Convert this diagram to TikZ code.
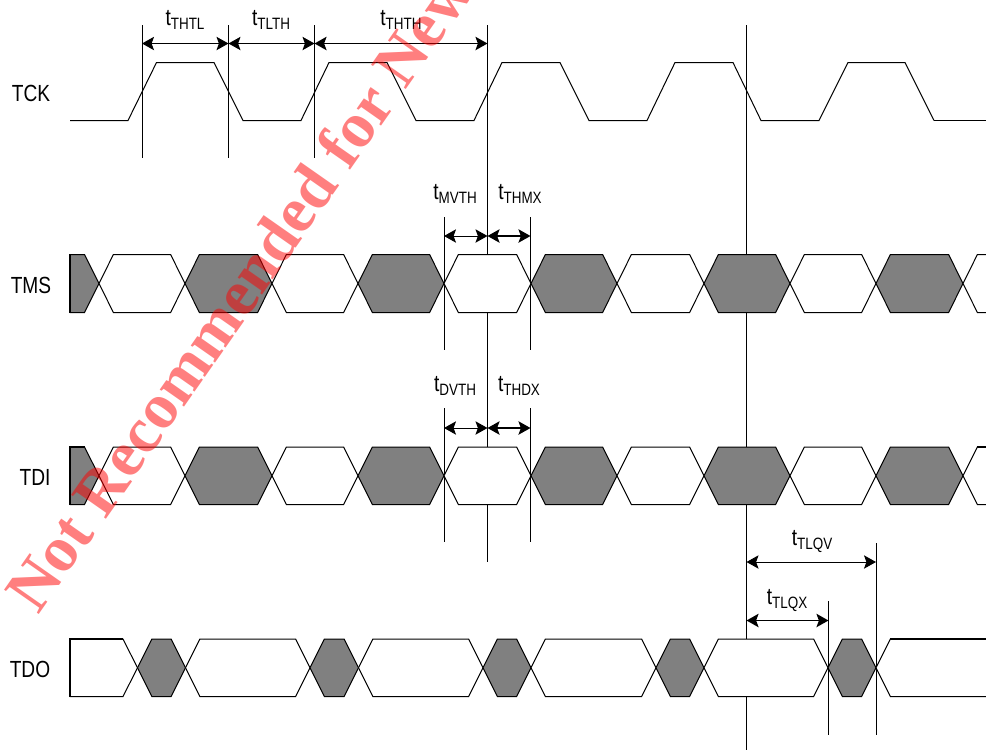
\documentclass[tikz,border=0pt]{standalone}
\usepackage{fontspec}
\setmainfont{Liberation Sans}[FakeStretch=0.82]
\newfontfamily\wmfont{Liberation Serif}
\usetikzlibrary{arrows.meta}
\newcommand{\tsub}[1]{\fontsize{17.5pt}{18pt}\selectfont t\raisebox{-3.2pt}{\fontsize{12.3pt}{13pt}\selectfont #1}}
\definecolor{gray50}{RGB}{128,128,128}
\definecolor{wmred}{RGB}{255,0,0}
\tikzset{
  wire/.style={draw=black,line width=0.75pt,line join=miter},
  heavy/.style={draw=black,line width=1.3pt},
  tline/.style={draw=black,line width=0.75pt},
  dim/.style={draw=black,line width=0.75pt,{Stealth[length=9pt,width=10pt,inset=1.8pt]}-{Stealth[length=9pt,width=10pt,inset=1.8pt]}},
  dimbold/.style={dim,line width=1.4pt},
  lab/.style={font=\fontsize{17.5pt}{18pt}\selectfont,inner sep=0pt,anchor=base},
  tlab/.style={inner sep=0pt,anchor=base},
  dark/.style={wire,fill=gray50},
  pale/.style={wire,fill=white},
}
\newcommand{\hexa}[5]{% style, x1, x2, top, bottom
  \path[#1] (#2,{(#4+#5)/2}) -- (#2+14.4,#4) -- (#3-14.4,#4) -- (#3,{(#4+#5)/2}) -- (#3-14.4,#5) -- (#2+14.4,#5) -- cycle;}
\newcommand{\datarow}[2]{% top, bottom
  \path[dark] (70,#1) -- (84.5,#1) -- (99,{(#1+#2)/2}) -- (84.5,#2) -- (70,#2);
  \draw[heavy] (70,#2+0.5) -- (70,#1) -- (84.5,#1);
  \hexa{pale}{99}{185}{#1}{#2}
  \hexa{dark}{185}{272}{#1}{#2}
  \hexa{pale}{272}{358}{#1}{#2}
  \hexa{dark}{358}{444}{#1}{#2}
  \hexa{pale}{444}{531}{#1}{#2}
  \hexa{dark}{531}{617}{#1}{#2}
  \hexa{pale}{617}{704}{#1}{#2}
  \hexa{dark}{704}{790}{#1}{#2}
  \hexa{pale}{790}{876}{#1}{#2}
  \hexa{dark}{876}{963}{#1}{#2}
  \path[pale] (987,#1) -- (977.4,#1) -- (963,{(#1+#2)/2}) -- (977.4,#2) -- (987,#2);
  \draw[heavy] (977.4,#1) -- (987,#1);
}
\begin{document}
\begin{tikzpicture}[x=0.75pt,y=-0.75pt]
\useasboundingbox (0,0) rectangle (986,751);
\clip (0,0) rectangle (986,751);
% named ends of the timing lines
\coordinate (a1) at (142,25);  \coordinate (a2) at (142,158);
\coordinate (b1) at (228.5,25);  \coordinate (b2) at (228.5,158);
\coordinate (c1) at (314.5,25);  \coordinate (c2) at (314.5,158);
\coordinate (d1) at (487.5,25);\coordinate (d2) at (487.5,562);
\coordinate (e1) at (746.5,25);  \coordinate (e2) at (746.5,750);
\coordinate (f1) at (444,217); \coordinate (f2) at (444,350);
\coordinate (g1) at (530.5,217); \coordinate (g2) at (530.5,350);
\coordinate (h1) at (444,408); \coordinate (h2) at (444,542);
\coordinate (i1) at (530.5,408); \coordinate (i2) at (530.5,542);
\coordinate (j1) at (828.5,601); \coordinate (j2) at (828.5,735);
\coordinate (k1) at (876,543); \coordinate (k2) at (876,735);
\foreach \p/\q in {a1/a2,b1/b2,c1/c2,d1/d2,e1/e2,f1/f2,g1/g2,h1/h2,i1/i2,j1/j2,k1/k2}
  \draw[tline] (\p) -- (\q);
% TCK
\draw[wire] (70,120.5)
  -- (128,120.5) -- (156.5,62.5) -- (214,62.5) -- (243,120.5)
  -- (301,120.5) -- (329,62.5) -- (387,62.5) -- (416,120.5)
  -- (474,120.5) -- (502,62.5) -- (560,62.5) -- (589,120.5)
  -- (647,120.5) -- (675,62.5) -- (733,62.5) -- (761,120.5)
  -- (819,120.5) -- (848,62.5) -- (905,62.5) -- (934,120.5);
\draw[heavy] (934,120.5) -- (986,120.5);
% TMS, TDI
\datarow{254.5}{312.5}
\datarow{447}{504.5}
% TDO
\path[pale] (70,639) -- (123,639) -- (137.5,667.75) -- (123,696.5) -- (70,696.5);
\draw[heavy] (70,697) -- (70,639) -- (123,639);
\hexa{dark}{137.5}{185.5}{639}{696.5}
\hexa{pale}{185.5}{310}{639}{696.5}
\hexa{dark}{310}{358.5}{639}{696.5}
\hexa{pale}{358.5}{483}{639}{696.5}
\hexa{dark}{483}{531}{639}{696.5}
\hexa{pale}{531}{656}{639}{696.5}
\hexa{dark}{656}{704}{639}{696.5}
\hexa{pale}{704}{828}{639}{696.5}
\hexa{dark}{828}{876}{639}{696.5}
\path[pale] (987,639) -- (890.4,639) -- (876,667.75) -- (890.4,696.5) -- (987,696.5);
\draw[heavy] (890.4,639) -- (987,639);
% dimension arrows
\coordinate (p1) at (142,43.5);\coordinate (p2) at (228.5,43.5);\coordinate (p3) at (314.5,43.5);\coordinate (p4) at (487.5,43.5);
\draw[dim] (p1) -- (p2); \draw[dim] (p2) -- (p3); \draw[dimbold] (p3) -- (p4);
\coordinate (q1) at (444,236);\coordinate (q2) at (487.5,236);\coordinate (q3) at (530.5,236);
\draw[dim] (q1) -- (q2); \draw[dimbold] (q2) -- (q3);
\coordinate (r1) at (444,428);\coordinate (r2) at (487.5,428);\coordinate (r3) at (530.5,428);
\draw[dim] (r1) -- (r2); \draw[dimbold] (r2) -- (r3);
\coordinate (s1) at (746.5,562);\coordinate (s2) at (876,562);
\draw[dim] (s1) -- (s2);
\coordinate (u1) at (746.5,620.5);\coordinate (u2) at (828.5,620.5);
\draw[dimbold] (u1) -- (u2);
% signal labels
\node[lab] (tck) at (31,101) {TCK};
\node[lab] (tms) at (31,293) {TMS};
\node[lab] (tdi) at (35,485.5) {TDI};
\node[lab] (tdo) at (30,677.5) {TDO};
% timing labels
\node[tlab] (l1) at (185,25) {\tsub{THTL}};
\node[tlab] (l2) at (271,25) {\tsub{TLTH}};
\node[tlab] (l3) at (401,25) {\tsub{THTH}};
\node[tlab] (l4) at (455,199) {\tsub{MVTH}};
\node[tlab] (l5) at (520,199) {\tsub{THMX}};
\node[tlab] (l6) at (455,391) {\tsub{DVTH}};
\node[tlab] (l7) at (519,391) {\tsub{THDX}};
\node[tlab] (l8) at (812,545) {\tsub{TLQV}};
\node[tlab] (l9) at (787,604) {\tsub{TLQX}};
% watermark
\node[inner sep=0pt,rotate=55,text=wmred,opacity=0.5,anchor=base west,font=\wmfont\bfseries\fontsize{48.5pt}{50pt}\selectfont] (wm) at (38,616) {Not Recommended for New Designs};
\end{tikzpicture}
\end{document}
